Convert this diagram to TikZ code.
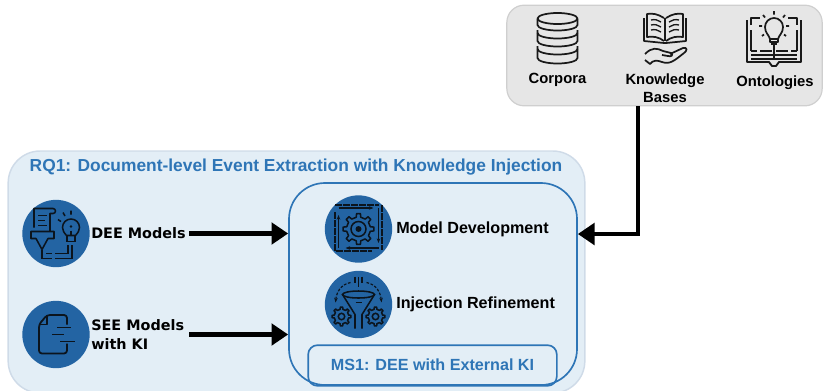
\documentclass[tikz,border=0pt]{standalone}
\usepackage{fontspec}
\setmainfont{Liberation Sans}
\newfontfamily\dejavu{DejaVu Sans}
\usetikzlibrary{arrows.meta,calc}
\definecolor{rqfill}{HTML}{E3EEF6}
\definecolor{rqline}{HTML}{CFDBE8}
\definecolor{srcfill}{HTML}{E6E6E6}
\definecolor{srcline}{HTML}{CFCFCF}
\definecolor{blueline}{HTML}{2E75B6}
\definecolor{disc}{HTML}{2364A3}
\definecolor{icodark}{HTML}{0B141D}
\newcommand{\gearico}[5]{% x y outer inner hole
  \begin{scope}[shift={(#1,#2)}]
  \draw[ico,line join=round] (-12:#4*0.75pt) \foreach \a in {0,45,...,315}{ -- (\a-11:#4*0.75pt) -- (\a-7:#3*0.75pt) -- (\a+7:#3*0.75pt) -- (\a+11:#4*0.75pt) -- (\a+34:#4*0.75pt)} -- cycle;
  \draw[ico] (0,0) circle[radius=#5*0.75pt];
  \end{scope}}
\tikzset{
  x=0.75pt,y=-0.75pt,
  ico/.style={draw=icodark,line width=1.15pt},
  topico/.style={draw=black!90,line width=1.3pt},
  discnode/.style={circle,fill=disc,inner sep=0pt,minimum size=50.5pt},
  lblarial/.style={font=\fontsize{12.1pt}{14pt}\selectfont\bfseries,inner sep=0pt,align=center},
  lbltop/.style={font=\fontsize{11.1pt}{13.2pt}\selectfont\bfseries,inner sep=0pt,align=center},
  lbldeja/.style={font=\dejavu\fontsize{10.8pt}{14pt}\selectfont\bfseries,inner sep=0pt,align=left,anchor=west},
  bluetxt/.style={font=\fontsize{13.03pt}{15pt}\selectfont\bfseries,text=blueline,inner sep=0pt},
  flow/.style={line width=3.6pt,draw=black,-{Triangle[length=12.5pt,width=16pt]}},
}
\begin{document}
\begin{tikzpicture}
\useasboundingbox (0,0) rectangle (823,390);
% panels
\node[draw=srcline,fill=srcfill,line width=0.9pt,rounded corners=13pt,minimum width=236.5pt,minimum height=75.5pt,inner sep=0pt] (src) at (664.5,55.5) {};
\node[draw=rqline,fill=rqfill,line width=1.1pt,rounded corners=24pt,minimum width=432.5pt,minimum height=181.5pt,inner sep=0pt] (rq) at (296.5,272) {};
\node[draw=blueline,line width=1.25pt,rounded corners=27pt,minimum width=216pt,minimum height=151.5pt,inner sep=0pt] (inner) at (433,284) {};
\node[draw=blueline,line width=1.25pt,rounded corners=7pt,minimum width=186.5pt,minimum height=30.5pt,inner sep=0pt] (ms) at (432.5,365.5) {};
% texts
\node[bluetxt] (rqt) at (296,167.5) {RQ1: Document-level Event Extraction with Knowledge Injection};
\node[bluetxt,font=\fontsize{12.1pt}{14pt}\selectfont\bfseries] (mst) at (432.5,364.5) {MS1: DEE with External KI};
\node[lbltop] (corp) at (557.5,80) {Corpora};
\node[lbltop] (kb) at (665,88.5) {Knowledge\\[0.5pt]Bases};
\node[lbltop] (onto) at (775,83) {Ontologies};
\node[lbldeja] (dee) at (91,233.5) {DEE Models};
\node[lbldeja,align=left] (see) at (91,334.5) {SEE Models\\with KI};
\node[lblarial,anchor=west] (dev) at (396,229.5) {Model Development};
\node[lblarial,anchor=west] (ref) at (396,304.5) {Injection Refinement};
% discs
\node[discnode] (d1) at (56,233.5) {};
\node[discnode] (d2) at (56,334.5) {};
\node[discnode] (d3) at (358.5,229) {};
\node[discnode] (d4) at (358.5,304.5) {};
% connectors
\coordinate (kbout) at (638,106);
\coordinate (deeout) at (189,233.5);
\coordinate (seeout) at (189,334.5);
\draw[flow] (deeout) -- (deeout -| inner.west);
\draw[flow] (seeout) -- (seeout -| inner.west);
\draw[flow] (kbout) |- ($(inner.east)+(0,-50)$);
% --- DEE icon
\begin{scope}[shift={(56,233.5)}]
\draw[ico,line join=round] (-22,-6) -- (-22,-25) -- (-3,-25) arc[start angle=270,end angle=450,radius=2.5] -- (-6,-20) -- (-6,-2);
\draw[ico] (-18,-18) -- (-9,-18) (-18,-13) -- (-11,-13) (-18,-8) -- (-9,-8);
\draw[ico,line join=round] (-25,-2) -- (-2,-2) -- (-2,5) -- (-8,5) -- (-14,16) -- (-20,5) -- (-25,5) -- cycle;
\draw[ico] (-14,16) -- (-14,25) -- (-4,25) (-1,25) -- (16,25) -- (16,11);
\draw[ico] (-10,20) -- (-4,20) (-1,20) -- (12,20) -- (12,11);
\draw[ico] (10.5,2) .. controls (8,-1) and (6.5,-3) .. (6.5,-6) arc[start angle=180,end angle=360,radius=8.5] .. controls (23.5,-3) and (22,-1) .. (19.5,2) -- cycle;
\draw[ico] (11,2) -- (11,8) -- (19,8) -- (19,2) (15,-3) -- (15,2);
\fill[icodark] (15,-7) circle[radius=1.3];
\draw[ico] (2,-14) -- (5,-12) (7,-21) -- (9,-17.5) (15,-23) -- (15,-19);
\end{scope}
% --- SEE icon
\begin{scope}[shift={(56,334.5)}]
\draw[ico,line width=1.35pt,line join=round,rounded corners=2.2pt] (11,-10) -- (11,-19.5) -- (-9,-19.5) -- (-17,-10) -- (-17,19) -- (11,19) -- (11,9);
\draw[ico,line width=1.35pt,line join=round] (-9,-19.5) -- (-9,-10) -- (-17,-10);
\draw[ico,line width=1.35pt] (1,-7) -- (15,-7) (-4,0) -- (8,0) (4,7) -- (19,7);
\end{scope}
% --- Model development icon
\begin{scope}[shift={(358.5,229)}]
\draw[ico,-{Stealth[length=3.5pt]}] (-20,-21) -- (15,-21);
\draw[ico,-{Stealth[length=3.5pt]}] (20,-21) -- (20,14);
\draw[ico,-{Stealth[length=3.5pt]}] (20,19) -- (-13,19);
\draw[ico,-{Stealth[length=3.5pt]}] (-20,19) -- (-20,-14);
\draw[ico,line width=0.9pt,dash pattern=on 5pt off 1pt] (-23.5,-24) -- (20,-24) (23.5,-24) -- (23.5,21) (-23.5,-17) -- (-23.5,22) -- (13,22);
\fill[icodark] (0,0) circle[radius=3];
\end{scope}
\gearico{358.5}{229}{15.5}{12}{7.5}
% --- Injection icon
\begin{scope}[shift={(358.5,304.5)}]
\draw[ico] (0,-10) ellipse[x radius=16,y radius=3.5];
\draw[ico,line join=round] (-16,-10) -- (-3.5,10) -- (-3.5,24) (16,-10) -- (3.5,10) -- (3.5,24);
\draw[ico] (-3,-2) -- (3,-2);
\draw[ico] (-3.5,-28) -- (-3.5,-22) (0,-28) -- (0,-18) (3.5,-28) -- (3.5,-22);
\draw[ico,line width=0.9pt,dash pattern=on 2pt off 1.2pt,-{Stealth[length=3.5pt]}] (-8,-22) .. controls (-18,-20) and (-22,-12) .. (-23,-2);
\draw[ico,line width=0.9pt,dash pattern=on 2pt off 1.2pt,-{Stealth[length=3.5pt]}] (8,-22) .. controls (18,-20) and (22,-12) .. (23,-2);
\end{scope}
\gearico{341.5}{316.5}{9.5}{7.3}{3.2}
\gearico{375.5}{316.5}{9.5}{7.3}{3.2}
% --- Corpora icon
\begin{scope}[shift={(557.5,0)},line join=round]
\draw[topico] (0,18.5) ellipse[x radius=20,y radius=5.5];
\draw[topico] (-20,18.5) -- (-20,25) arc[start angle=180,end angle=0,x radius=20,y radius=5.5] -- (20,18.5);
\draw[topico] (-20,33) arc[start angle=180,end angle=0,x radius=20,y radius=5.5];
\draw[topico] (-20,30) -- (-20,41) arc[start angle=180,end angle=0,x radius=20,y radius=5.5] -- (20,30);
\draw[topico] (-20,49) arc[start angle=180,end angle=0,x radius=20,y radius=5.5];
\draw[topico] (-20,46) -- (-20,58) arc[start angle=180,end angle=0,x radius=20,y radius=5.5] -- (20,46);
\end{scope}
% --- Knowledge bases icon
\begin{scope}[shift={(665,0)},line join=round]
\draw[topico] (-1,18) .. controls (-7,14) and (-13,13) .. (-18,14) -- (-18,37) .. controls (-12,36) and (-6,37) .. (-1,41);
\draw[topico] (1,18) .. controls (7,14) and (13,13) .. (18,14) -- (18,37) .. controls (12,36) and (6,37) .. (1,41);
\draw[topico] (-21,18) -- (-21,41) -- (-1,43) -- (1,43) -- (21,41) -- (21,18);
\draw[topico] (0,18) -- (0,41);
\foreach \yy in {21,26,31}{
  \draw[topico,line width=1pt] (-14,\yy-1) .. controls (-10,\yy-2) and (-7,\yy-1) .. (-4,\yy+1);
  \draw[topico,line width=1pt] (14,\yy-1) .. controls (10,\yy-2) and (7,\yy-1) .. (4,\yy+1);
}
\draw[topico] (-20,54) .. controls (-13,47) and (-8,48) .. (-2,51) -- (6,53) .. controls (9,55) and (6,57) .. (3,56) -- (-3,55);
\draw[topico] (5,54) -- (18,48) .. controls (23,47) and (22,51) .. (19,53) .. controls (10,60) and (5,65) .. (-3,62) .. controls (-8,60) and (-12,60) .. (-15,64) -- (-20,60);
\end{scope}
% --- Ontologies icon
\begin{scope}[shift={(774,0)},line join=round]
\draw[topico,line width=1.4pt] (-27,20) -- (-27,62) -- (-5,62) -- (-2,66) -- (2,66) -- (5,62) -- (27,62) -- (27,20);
\draw[topico,line width=1.4pt] (-23,25) -- (-23,18) -- (-14,18) (14,18) -- (23,18) -- (23,25) (-23,30) -- (-23,51) (23,30) -- (23,51);
\draw[topico,line width=1.2pt] (-23,51) -- (-17,51) (-14,51) -- (-2,51) (2,51) -- (14,51) (17,51) -- (23,51) (-23,55) -- (23,55) (-23,59) -- (23,59);
\draw[topico] (-4,39) .. controls (-5,35) and (-9,33) .. (-9,27) arc[start angle=180,end angle=360,radius=9] .. controls (9,33) and (5,35) .. (4,39) -- cycle;
\draw[topico] (-4,39) -- (-4,42) -- (4,42) -- (4,39);
\draw[topico] (-3,44) -- (3,44);
\draw[topico] (0,44) -- (0,60);
\draw[topico] (0,11) -- (0,14.5) (-11,15) -- (-9,17.5) (11,15) -- (9,17.5) (-15,26) -- (-12,26) (15,26) -- (12,26) (-12,36) -- (-10,34.5) (12,36) -- (10,34.5);
\end{scope}
\end{tikzpicture}
\end{document}
